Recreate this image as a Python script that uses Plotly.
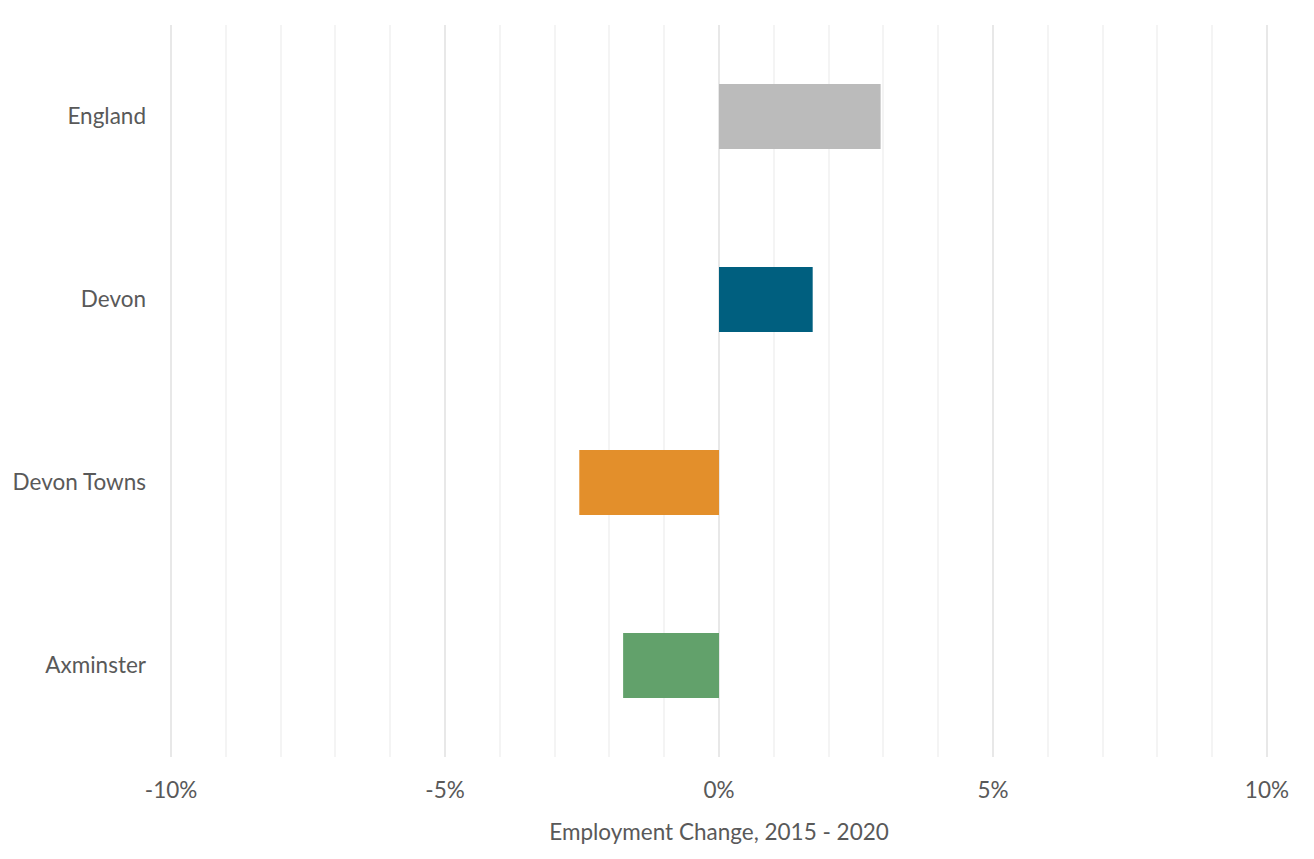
import plotly.graph_objects as go

categories = ["England", "Devon", "Devon Towns", "Axminster"]
values = [0.0295, 0.0171, -0.0255, -0.0175]
colors = ["#BBBBBB", "#005F7F", "#E38F2B", "#62A16B"]
tick_vals = [-0.10, -0.05, 0.0, 0.05, 0.10]
tick_text = ["-10%", "-5%", "0%", "5%", "10%"]

fig = go.Figure(go.Bar(
    y=categories, x=values, orientation="h",
    marker=dict(color=colors, line=dict(width=0)),
    width=0.355,
))

fig.update_layout(
    width=1314, height=859,
    margin=dict(l=170, r=46, t=25, b=102),
    paper_bgcolor="white", plot_bgcolor="white",
    font=dict(family="Lato, Open Sans, sans-serif", size=22.5, color="#595959"),
    showlegend=False,
)
fig.update_xaxes(
    range=[-0.1002, 0.1002], tickvals=tick_vals, ticktext=tick_text,
    showgrid=True, gridcolor="#E8E8E8", gridwidth=2,
    minor=dict(dtick=0.01, tick0=0, showgrid=True, gridcolor="#F4F4F4", gridwidth=1.5),
    zeroline=False, showline=False, ticks="",
    ticklabelstandoff=17,
    title=dict(text="Employment Change, 2015 - 2020", font=dict(size=22.5, color="#595959"), standoff=22),
    tickfont=dict(size=22.5, color="#595959"),
)
fig.update_yaxes(
    categoryorder="array", categoryarray=categories[::-1],
    showgrid=False, zeroline=False, showline=False, ticks="",
    ticklabelstandoff=23,
    tickfont=dict(size=22.5, color="#595959"),
)

fig.write_html("out.html")
